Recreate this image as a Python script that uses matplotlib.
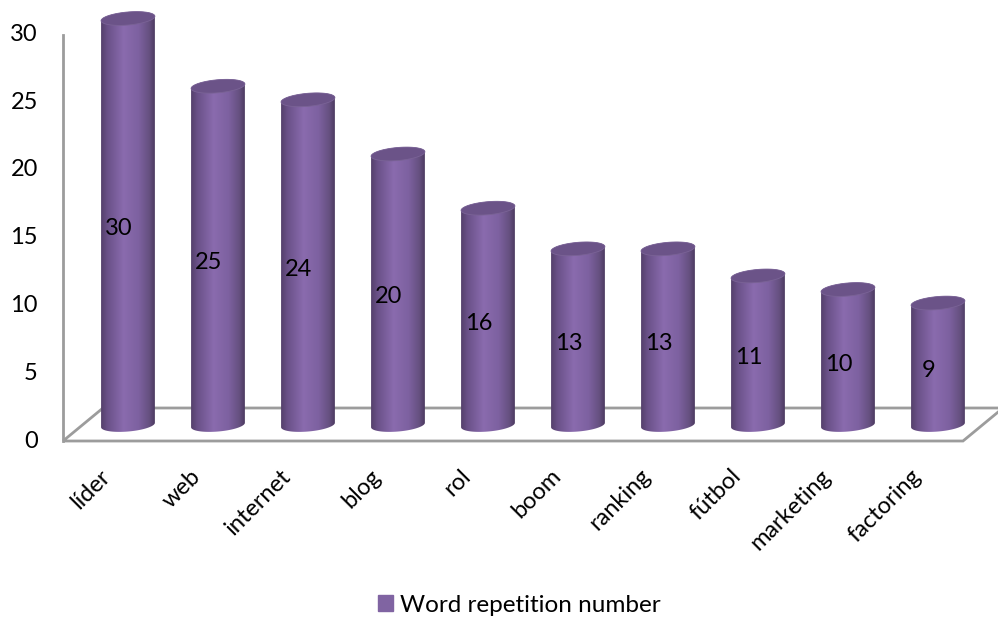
import numpy as np
import matplotlib.pyplot as plt
from matplotlib.patches import Polygon, Patch
from matplotlib.colors import LinearSegmentedColormap

words = ["líder", "web", "internet", "blog", "rol", "boom", "ranking",
         "fútbol", "marketing", "factoring"]
counts = [30, 25, 24, 20, 16, 13, 13, 11, 10, 9]
yticks = [0, 5, 10, 15, 20, 25, 30]
series_name = "Word repetition number"

plt.rcParams['font.family'] = ['Lato', 'DejaVu Sans']
FS = 17

W, H = 998, 619
fig = plt.figure(figsize=(W / 100, H / 100), dpi=100)
ax = fig.add_axes([0, 0, 1, 1])
ax.axis("off")

# pixel scale of one category / one value unit
PXC, PXV = 90.0, 13.55
x0 = -108 / PXC
y0 = -(H - 441) / PXV
ax.set_xlim(x0, x0 + W / PXC)
ax.set_ylim(y0, y0 + H / PXV)

# depth offset of the floor (back edge) and of the bars (mid depth)
DX, DY = 40 / PXC, 33 / PXV
BX, BY = 0.222, 16 / PXV

grey = "#9c9c9c"
n = len(words)
# floor
floor = Polygon([(-0.5, 0), (n - 0.5, 0), (n - 0.5 + DX, DY), (-0.5 + DX, DY)],
                closed=True, fill=False, ec=grey, lw=2, zorder=1)
ax.add_patch(floor)
# value axis
ax.plot([-0.5, -0.5], [0, yticks[-1]], color=grey, lw=2, zorder=1)
for t in yticks:
    ax.text(-0.78, t, str(t), ha="right", va="center", fontsize=FS)

cmap = LinearSegmentedColormap.from_list(
    "cyl", [(0, "#54406b"), (0.12, "#6a5188"), (0.42, "#8a6bae"),
            (0.7, "#7d61a0"), (0.9, "#65507f"), (1, "#4c3a60")])

a_px, b_px, tilt = 27.0, 6.5, np.deg2rad(5)


def ellipse_pts(cx, cy, t):
    px = a_px * np.cos(t) * np.cos(tilt) - b_px * np.sin(t) * np.sin(tilt)
    py = a_px * np.cos(t) * np.sin(tilt) + b_px * np.sin(t) * np.cos(tilt)
    return np.column_stack([cx + px / PXC, cy + py / PXV])


grad = np.linspace(0, 1, 256)[None, :]
for i, (w, v) in enumerate(zip(words, counts)):
    cx = i + BX
    cb, ct = BY, BY + v
    lower = ellipse_pts(cx, cb, np.linspace(np.pi, 2 * np.pi, 60))
    upper = ellipse_pts(cx, ct, np.linspace(0, np.pi, 60))
    body = Polygon(np.vstack([lower, upper]), closed=True, fc="none",
                   ec="none", zorder=3)
    ax.add_patch(body)
    hw = a_px / PXC
    im = ax.imshow(grad, cmap=cmap, aspect="auto", zorder=3,
                   extent=(cx - hw, cx + hw, cb - 1, ct + 1))
    im.set_clip_path(body)
    top = Polygon(ellipse_pts(cx, ct, np.linspace(0, 2 * np.pi, 100)),
                  closed=True, fc="#6b5388", ec="#7a6396", lw=0.6, zorder=4)
    ax.add_patch(top)
    ax.text(cx - 0.1, v / 2 + BY - 0.5, str(v), ha="center", va="center",
            fontsize=FS, zorder=5)
    ax.text(i - 0.09, -1.8, w, ha="right", va="top", rotation=45,
            rotation_mode="anchor", fontsize=FS)

ax.legend(handles=[Patch(color="#8064a2", label=series_name)],
          loc="center", bbox_to_anchor=(0.5205, 0.0226), frameon=False,
          fontsize=17.5, handlelength=0.6, handleheight=0.6,
          handletextpad=0.3)

fig.savefig("out.png", dpi=100)
